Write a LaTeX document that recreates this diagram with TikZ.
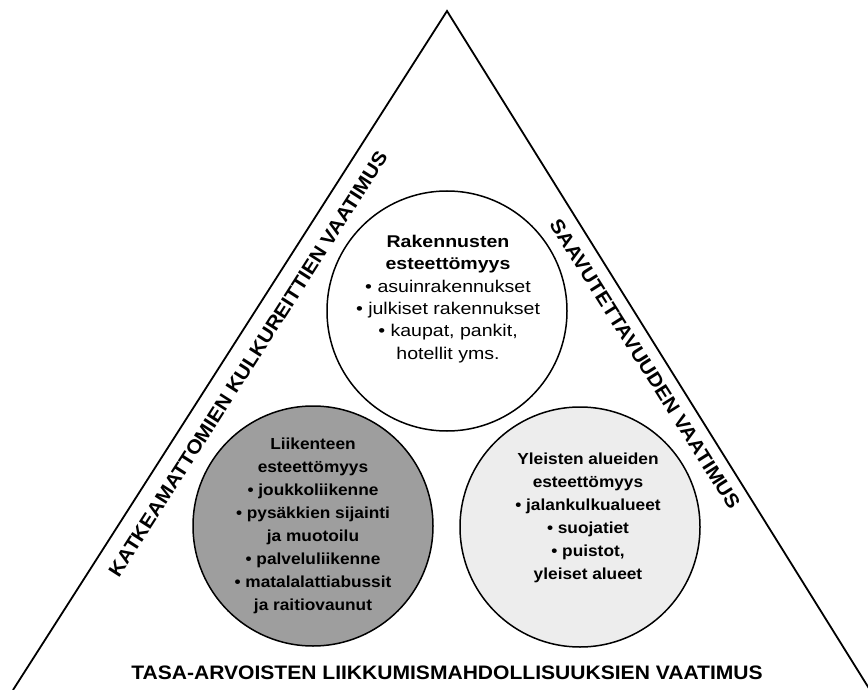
\documentclass[tikz,border=0pt]{standalone}
\usepackage{fontspec}
\setmainfont{Liberation Sans}
\newfontfamily\lblfont{Liberation Sans}[FakeStretch=1.08]
\newfontfamily\cfont{Liberation Sans}[FakeStretch=1.15]
\newfontfamily\cheavy{Liberation Sans}[FakeStretch=1.08]
\begin{document}
\begin{tikzpicture}[x=1pt,y=-1pt,
  edge/.style={line width=1.8pt, line join=miter},
  ring/.style={circle, draw, line width=1.5pt, minimum size=240pt, inner sep=0pt},
  lbl/.style={font=\lblfont\bfseries\fontsize{19.5}{22}\selectfont, inner sep=0pt},
  ctext/.style={align=center, font=\cfont\fontsize{17}{22.3}\selectfont, inner sep=0pt},
  cheavytext/.style={align=center, font=\cheavy\bfseries\fontsize{16}{23}\selectfont, inner sep=0pt}]
\useasboundingbox (0,0) rectangle (868,690);
\begin{scope}
\clip (0,0) rectangle (868,690);
\coordinate (apex) at (447,11);
\coordinate (bl) at (13,690);
\coordinate (br) at (870,690);
\draw[edge] (bl) -- (apex) -- (br);
\end{scope}
% circles
\node[ring, fill=white] (top) at (447,311) {};
\node[ring, fill=black!38] (left) at (313,526) {};
\node[ring, fill=black!7] (right) at (580,527) {};
% circle texts
\node[ctext] (toptext) at (448,299) {\textbf{Rakennusten}\\ \textbf{esteettömyys}\\ • asuinrakennukset\\ • julkiset rakennukset\\ • kaupat, pankit,\\ hotellit yms.};
\node[cheavytext] (lefttext) at (313,526) {Liikenteen\\ esteettömyys\\ • joukkoliikenne\\ • pysäkkien sijainti\\ ja muotoilu\\ • palveluliikenne\\ • matalalattiabussit\\ ja raitiovaunut};
\node[cheavytext] (righttext) at (588,518) {Yleisten alueiden\\ esteettömyys\\ • jalankulkualueet\\ • suojatiet\\ • puistot,\\ yleiset alueet};
% side labels
\node[lbl, rotate=57.4] (leftlbl) at (248,364) {KATKEAMATTOMIEN KULKUREITTIEN VAATIMUS};
\node[lbl, rotate=-57.7] (rightlbl) at (645,364) {SAAVUTETTAVUUDEN VAATIMUS};
\node[lbl] (bottomlbl) at (447,673) {TASA-ARVOISTEN LIIKKUMISMAHDOLLISUUKSIEN VAATIMUS};
\end{tikzpicture}
\end{document}
